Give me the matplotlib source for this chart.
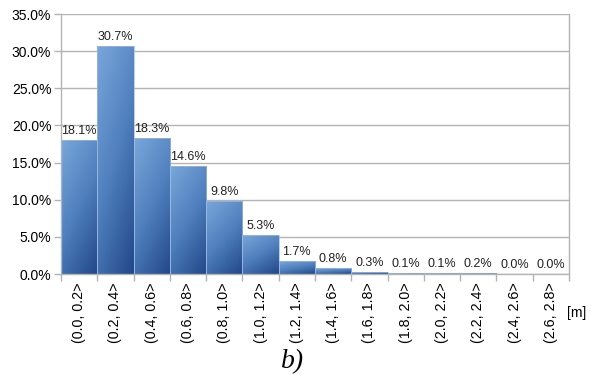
import numpy as np
import matplotlib.pyplot as plt
from matplotlib.colors import LinearSegmentedColormap

# histogram of distances, share of all samples in %
bins = ["(0.0, 0.2>", "(0.2, 0.4>", "(0.4, 0.6>", "(0.6, 0.8>", "(0.8, 1.0>",
        "(1.0, 1.2>", "(1.2, 1.4>", "(1.4, 1.6>", "(1.6, 1.8>", "(1.8, 2.0>",
        "(2.0, 2.2>", "(2.2, 2.4>", "(2.4, 2.6>", "(2.6, 2.8>"]
share = [18.1, 30.7, 18.3, 14.6, 9.8, 5.3, 1.7, 0.8, 0.3, 0.1, 0.1, 0.2, 0.0, 0.0]
yticks = [0, 5, 10, 15, 20, 25, 30, 35]

grid_c = "#b3b3b3"
cmap = LinearSegmentedColormap.from_list("bar", ["#7aa7db", "#4f7fbd", "#22488a"])

fig = plt.figure(figsize=(5.95, 3.83), dpi=100)
ax = fig.add_axes([61/595, 1 - 274/383, (569 - 61)/595, (274 - 14)/383])

n = len(share)
x = np.arange(n)
bars = ax.bar(x, share, width=1.0, align="center", color="none",
              edgecolor="#9dbbe2", linewidth=0.5, zorder=3)

# diagonal gradient inside each bar, light top-left -> dark bottom-right
u, v = np.meshgrid(np.linspace(0, 1, 40), np.linspace(0, 1, 80))
grad = 0.35 * u + 0.65 * v
for b in bars:
    h = b.get_height()
    if h <= 0:
        continue
    x0 = b.get_x()
    im = ax.imshow(grad, cmap=cmap, extent=(x0, x0 + 1, 0, h), origin="upper",
                   aspect="auto", zorder=2, vmin=0, vmax=1)
    im.set_clip_path(b)

for xi, val in zip(x, share):
    ax.text(xi, val + 0.4, f"{val:.1f}%", ha="center", va="bottom",
            fontsize=9, family="Liberation Sans", color="#222222", zorder=4)

ax.set_xlim(-0.5, n - 0.5)
ax.set_ylim(0, 35)
ax.set_yticks(yticks)
ax.set_yticklabels([f"{t:.1f}%" for t in yticks], family="Liberation Sans", fontsize=10)
ax.yaxis.grid(True, color=grid_c, linewidth=1, zorder=0)
ax.set_axisbelow(True)

ax.set_xticks(np.arange(n + 1) - 0.5)
ax.set_xticklabels([])
ax.set_xticks(x, minor=True)
ax.set_xticklabels(bins, minor=True, rotation=90, family="Liberation Sans", fontsize=10.3)
ax.tick_params(axis="x", which="minor", length=0, pad=6)
ax.tick_params(axis="x", which="major", length=5, color=grid_c, width=1)
ax.tick_params(axis="y", length=5, color=grid_c, width=1, pad=2)

for s in ["left", "right", "bottom"]:
    ax.spines[s].set_color(grid_c)
    ax.spines[s].set_linewidth(1)
ax.spines["top"].set_visible(False)

fig.text(567/595, 1 - 313/383, "[m]", fontsize=10, family="Liberation Sans", va="center")
fig.text(293/595, 1 - 362/383, "b)", fontsize=20, family="Liberation Serif",
         style="italic", ha="center", va="center")

fig.savefig("out.png", dpi=100)
